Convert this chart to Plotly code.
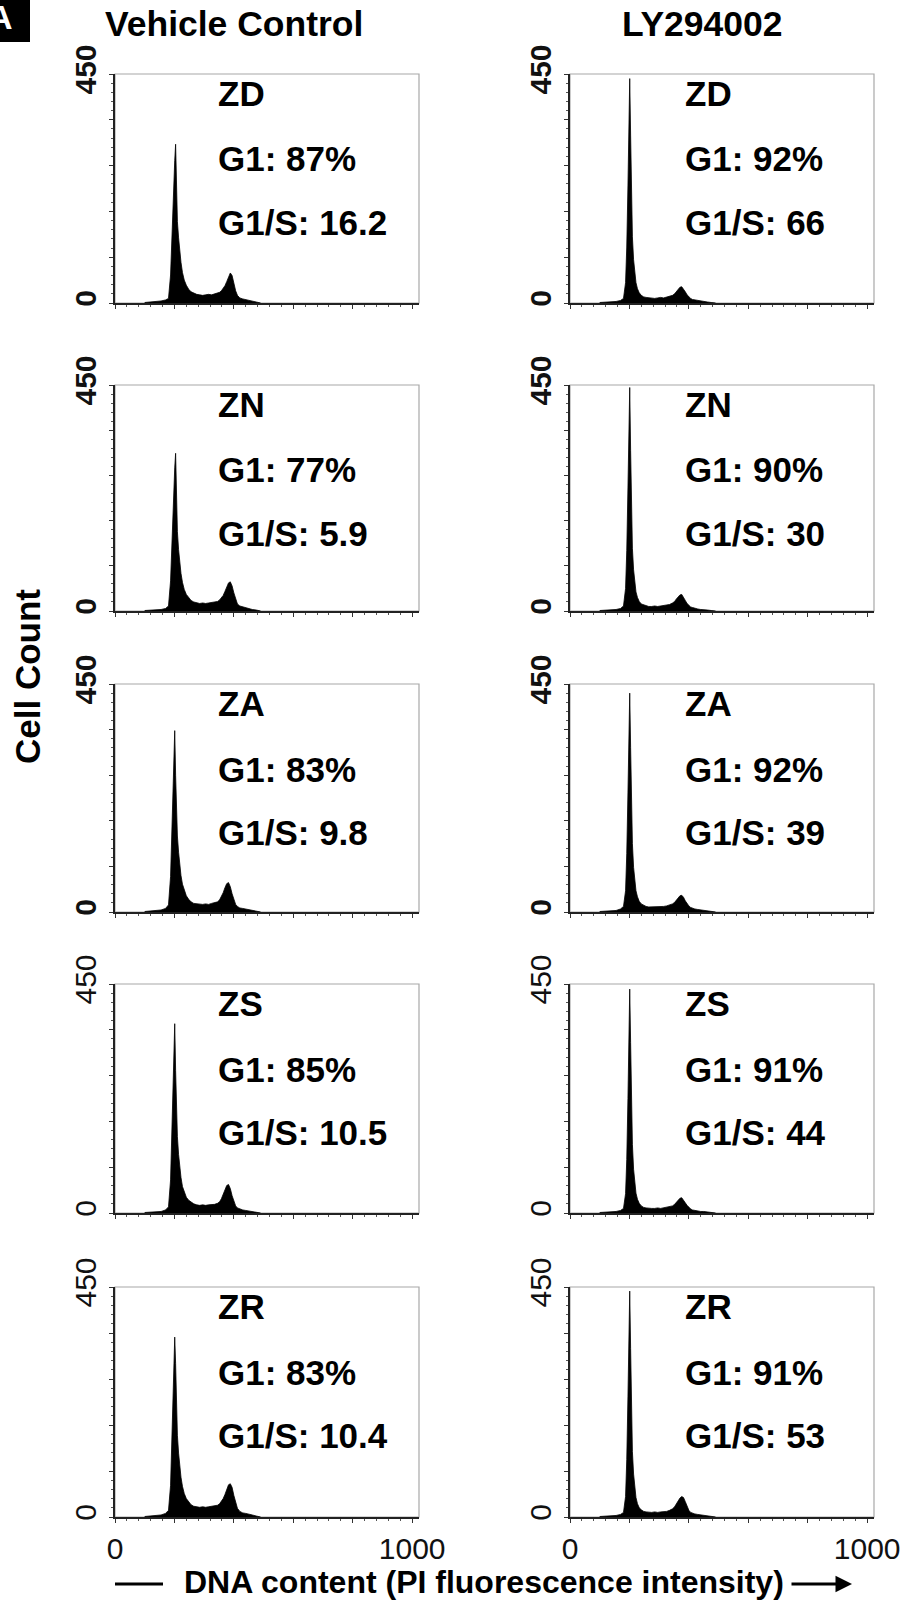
import plotly.graph_objects as go

W, H = 905, 1608
FONT = "Liberation Sans, Arial, Helvetica, sans-serif"

# PI fluorescence channels (0-1023 scale) at which the cell counts are given
channel = [100, 130, 155, 170, 180, 187, 191, 195, 198, 201, 204, 207, 210, 214, 218,
           222, 227, 233, 240, 248, 256, 265, 275, 285, 295, 305, 315, 325, 335, 345,
           352, 358, 364, 370, 376, 382, 388, 394, 400, 406, 412, 420, 430, 440, 450,
           462, 475, 490]

cell_lines = ["ZD", "ZN", "ZA", "ZS", "ZR"]
treatments = ["Vehicle Control", "LY294002"]

g1_vehicle = ["87%", "77%", "83%", "85%", "83%"]
g1_ly = ["92%", "90%", "92%", "91%", "91%"]
g1s_vehicle = ["16.2", "5.9", "9.8", "10.5", "10.4"]
g1s_ly = ["66", "30", "39", "44", "53"]

# cell counts per channel, vehicle control
vc_zd = [1, 2, 4, 6, 9, 55, 130, 175, 225, 280, 312, 215, 160, 128, 100, 80, 60, 45, 35, 27,
         22, 19, 17, 16, 15, 16, 17, 16, 18, 19, 21, 24, 28, 34, 42, 52, 59, 54, 38, 24,
         15, 10, 8, 7, 5, 4, 2, 0]
vc_zn = [1, 2, 3, 5, 10, 60, 135, 180, 230, 285, 314, 220, 158, 122, 95, 75, 57, 43, 33, 26,
         21, 18, 16, 15, 16, 15, 16, 17, 17, 19, 22, 26, 31, 39, 48, 56, 58, 50, 36, 22,
         14, 10, 8, 6, 5, 3, 2, 0]
vc_za = [1, 2, 4, 7, 14, 70, 160, 240, 330, 358, 270, 190, 150, 118, 92, 72, 55, 42, 32, 25,
         20, 17, 16, 15, 15, 16, 15, 17, 18, 20, 24, 30, 38, 48, 56, 58, 50, 36, 24, 15,
         11, 8, 7, 6, 4, 3, 2, 0]
vc_zs = [1, 2, 3, 6, 12, 65, 150, 235, 335, 372, 280, 195, 150, 115, 90, 70, 52, 40, 31, 25,
         21, 18, 16, 15, 16, 15, 16, 16, 17, 19, 22, 28, 36, 46, 54, 56, 48, 34, 22, 14,
         10, 8, 6, 5, 4, 3, 1, 0]
vc_zr = [1, 2, 4, 7, 13, 62, 150, 220, 300, 352, 300, 210, 160, 125, 98, 78, 60, 46, 36, 29,
         24, 21, 20, 19, 20, 19, 20, 21, 21, 23, 26, 30, 36, 44, 54, 63, 65, 58, 42, 27,
         17, 11, 8, 7, 6, 4, 2, 0]

# cell counts per channel, LY294002
ly_zd = [1, 2, 3, 5, 9, 40, 110, 230, 360, 441, 330, 200, 130, 85, 58, 40, 28, 20, 15, 12,
         11, 10, 10, 9, 10, 11, 10, 12, 13, 15, 18, 22, 27, 31, 32, 28, 22, 16, 12, 9,
         7, 6, 5, 4, 3, 2, 1, 0]
ly_zn = [1, 2, 3, 5, 10, 45, 120, 245, 370, 445, 320, 195, 125, 82, 55, 38, 27, 19, 14, 12,
         10, 9, 9, 10, 9, 10, 11, 11, 13, 16, 19, 24, 29, 32, 33, 28, 21, 15, 11, 8,
         7, 5, 4, 3, 3, 2, 1, 0]
ly_za = [1, 2, 3, 6, 11, 42, 115, 235, 355, 432, 325, 205, 135, 88, 60, 42, 30, 21, 16, 13,
         11, 10, 10, 10, 11, 10, 11, 12, 14, 16, 19, 23, 28, 32, 33, 29, 22, 16, 12, 9,
         7, 6, 5, 4, 3, 2, 1, 0]
ly_zs = [1, 2, 3, 5, 9, 38, 105, 225, 350, 440, 335, 210, 135, 86, 57, 39, 27, 19, 14, 11,
         10, 9, 9, 9, 10, 9, 10, 11, 12, 14, 17, 21, 26, 29, 30, 26, 20, 15, 11, 8,
         6, 5, 4, 3, 3, 2, 1, 0]
ly_zr = [1, 2, 3, 5, 9, 40, 112, 235, 360, 442, 330, 200, 128, 84, 56, 38, 26, 18, 14, 11,
         10, 9, 9, 10, 9, 10, 10, 11, 13, 16, 20, 26, 32, 37, 40, 38, 30, 20, 13, 9,
         7, 6, 5, 4, 3, 2, 1, 0]

vehicle_counts = [vc_zd, vc_zn, vc_za, vc_zs, vc_zr]
ly_counts = [ly_zd, ly_zn, ly_za, ly_zs, ly_zr]

x_ticks = [0, 200, 400, 600, 800, 1000]
y_ticks = [0, 90, 180, 270, 360, 450]

# page-pixel geometry of the panel grid
col_left = [115, 570]
col_right = [419, 874]
row_top = [74, 385, 684, 984, 1287]
row_bottom = [303, 611, 912, 1213, 1517]
text_left = [216, 683]


def px(x):
    return x / W


def py(y):
    return 1 - y / H


fig = go.Figure()
layout = dict(
    width=W, height=H,
    margin=dict(l=0, r=0, t=0, b=0, pad=0, autoexpand=False),
    paper_bgcolor="white", plot_bgcolor="white",
    showlegend=False,
    font=dict(family=FONT, color="black"),
)
annotations = []
shapes = []

for c, treat in enumerate(treatments):
    counts = vehicle_counts if c == 0 else ly_counts
    g1 = g1_vehicle if c == 0 else g1_ly
    g1s = g1s_vehicle if c == 0 else g1s_ly
    for r, line in enumerate(cell_lines):
        k = r * 2 + c + 1
        xa = "x" if k == 1 else f"x{k}"
        ya = "y" if k == 1 else f"y{k}"
        fig.add_trace(go.Scatter(
            x=channel, y=counts[r], xaxis=xa, yaxis=ya,
            mode="lines", fill="tozeroy", fillcolor="black",
            line=dict(color="black", width=0.8), hoverinfo="skip",
        ))
        bottom_row = r == len(cell_lines) - 1
        bold_y = r < 3
        xt = ["0", "", "", "", "", "1000"] if bottom_row else [""] * 6
        yt = ["0", "", "", "", "", "450"]
        if bold_y:
            yt = [f"<b>{t}</b>" if t else "" for t in yt]
        layout["xaxis" if k == 1 else f"xaxis{k}"] = dict(
            domain=[px(col_left[c]), px(col_right[c])],
            anchor=ya, range=[0, 1023], automargin=False,
            tickmode="array", tickvals=x_ticks, ticktext=xt,
            ticks="outside", ticklen=4, tickwidth=1, tickcolor="#333",
            minor=dict(tickmode="linear", tick0=0, dtick=40, ticks="outside",
                       ticklen=2.5, tickwidth=1, tickcolor="#555"),
            tickfont=dict(size=30, family=FONT, color="#111"),
            showline=True, linecolor="#222", linewidth=1.5,
            showgrid=False, zeroline=False, fixedrange=True,
            ticklabelstandoff=0,
        )
        layout["yaxis" if k == 1 else f"yaxis{k}"] = dict(
            domain=[py(row_bottom[r]), py(row_top[r])],
            anchor=xa, range=[0, 450], automargin=False,
            tickmode="array", tickvals=y_ticks, ticktext=yt, tickangle=-90,
            ticks="outside", ticklen=4, tickwidth=1, tickcolor="#333",
            minor=dict(tickmode="linear", tick0=0, dtick=18, ticks="outside",
                       ticklen=2.5, tickwidth=1, tickcolor="#555"),
            tickfont=dict(size=30, family=FONT, color="#111"),
            showline=True, linecolor="#222", linewidth=1.5,
            showgrid=False, zeroline=False, fixedrange=True,
            ticklabelstandoff=1,
        )
        # light frame on the top and right of each panel
        shapes.append(dict(
            type="rect", xref=f"{xa} domain", yref=f"{ya} domain",
            x0=0, x1=1, y0=0, y1=1, layer="below",
            line=dict(color="#a8a8a8", width=1.2),
        ))
        for dy, txt in [(19, line), (85, f"G1: {g1[r]}"), (148, f"G1/S: {g1s[r]}")]:
            annotations.append(dict(
                xref="paper", yref="paper",
                x=px(text_left[c]), y=py(row_top[r] + dy),
                xanchor="left", yanchor="middle", showarrow=False,
                text=f"<b>{txt}</b>", font=dict(size=35, family=FONT, color="black"),
            ))

# column headings
for c, treat in enumerate(treatments):
    annotations.append(dict(
        xref="paper", yref="paper", x=px([234, 702][c]), y=py(24),
        xanchor="center", yanchor="middle", showarrow=False,
        text=f"<b>{treat}</b>", font=dict(size=35.5, family=FONT, color="black"),
    ))

# shared axis titles
annotations.append(dict(
    xref="paper", yref="paper", x=px(28), y=py(677),
    xanchor="center", yanchor="middle", showarrow=False, textangle=-90,
    text="<b>Cell Count</b>", font=dict(size=35, family=FONT, color="black"),
))
annotations.append(dict(
    xref="paper", yref="paper", x=px(182), y=py(1582),
    xanchor="left", yanchor="middle", showarrow=False,
    text="<b>DNA content (PI fluorescence intensity)</b>",
    font=dict(size=32, family=FONT, color="black"),
))
annotations.append(dict(
    xref="paper", yref="paper", x=px(852), y=py(1584),
    ax=-62, ay=0, showarrow=True, text="",
    arrowhead=2, arrowsize=1.1, arrowwidth=3, arrowcolor="black",
))
shapes.append(dict(
    type="line", xref="paper", yref="paper",
    x0=px(115), x1=px(163), y0=py(1584), y1=py(1584),
    line=dict(color="black", width=3),
))

# panel letter tab in the corner
shapes.append(dict(
    type="rect", xref="paper", yref="paper",
    x0=px(-5), x1=px(30), y0=py(42), y1=py(-5),
    fillcolor="black", line=dict(width=0),
))
annotations.append(dict(
    xref="paper", yref="paper", x=px(0), y=py(17),
    xanchor="center", yanchor="middle", showarrow=False,
    text="<b>A</b>", font=dict(size=34, family=FONT, color="white"),
))

layout["annotations"] = annotations
layout["shapes"] = shapes
fig.update_layout(**layout)

fig.write_html("out.html")
